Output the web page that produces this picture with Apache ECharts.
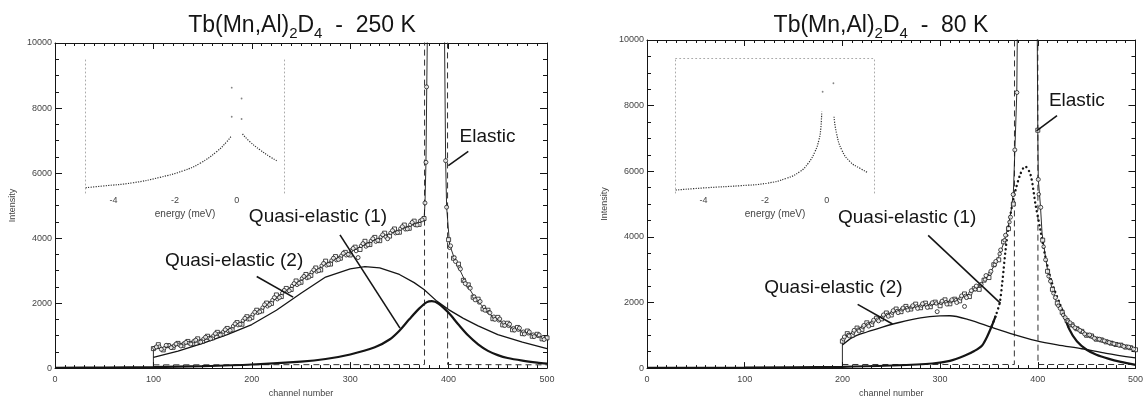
<!DOCTYPE html>
<html><head><meta charset="utf-8">
<script src="https://cdn.jsdelivr.net/npm/echarts@6/dist/echarts.min.js"></script>
<style>html,body{margin:0;padding:0;background:#fff}#c{width:1146px;height:403px}</style>
</head><body><div id="c"></div>
<script>
// ---------- DATA ----------
const titles = ['250 K', '80 K'];
const xTicks = [0, 100, 200, 300, 400, 500];
const yTicks = [0, 2000, 4000, 6000, 8000, 10000];
const insetTicks = [-4, -2, 0];

// 250 K : [channel, intensity]
const sq250 = [[100,600],[105,720],[110,560],[115,690],[120,640],[125,760],[130,700],[135,820],[140,760],[145,900],[150,830],[155,980],[160,930],[165,1100],[170,1050],[175,1220],[180,1180],[185,1400],[190,1350],[195,1580],[200,1560],[205,1780],[210,1760],[215,2000],[220,1990],[225,2250],[230,2200],[235,2450],[240,2420],[245,2680],[250,2640],[255,2880],[260,2850],[265,3080],[270,3020],[275,3290],[280,3200],[285,3430],[290,3380],[295,3560],[300,3480],[305,3720],[310,3650],[315,3900],[320,3800],[325,4020],[330,3920],[335,4150],[340,4060],[345,4280],[350,4180],[355,4400],[360,4300],[365,4520],[370,4420],[375,4600],
  [400,3950],[405,3380],[410,3200],[415,2700],[420,2560],[425,2180],[430,2120],[435,1820],[440,1780],[445,1520],[450,1560],[455,1330],[460,1380],[465,1180],[470,1250],[475,1060],[480,1140],[485,980],[490,1040],[495,900],[500,930]];
const ci250 = [[103,650],[108,580],[113,700],[118,630],[123,740],[128,680],[133,790],[138,740],[143,860],[148,800],[153,950],[158,900],[163,1060],[168,1020],[173,1180],[178,1160],[183,1360],[188,1350],[193,1530],[198,1510],[203,1720],[208,1730],[213,1950],[218,1950],[223,2170],[228,2170],[233,2390],[238,2380],[243,2600],[248,2610],[253,2820],[258,2800],[263,3020],[268,3000],[273,3220],[278,3190],[283,3380],[288,3340],[293,3530],[298,3500],[303,3680],[308,3400],[313,3830],[318,3790],[323,3980],[328,3930],[333,4100],[338,3980],[343,4230],[348,4170],[353,4350],[358,4280],[363,4480],[368,4400],[373,4560],
  [376,5080],[377,6330],[377.6,8650],[397,6380],[398,4950],
  [402,3760],[407,3280],[412,3050],[417,2600],[422,2460],[427,2100],[432,2050],[437,1780],[442,1700],[447,1500],[452,1510],[457,1310],[462,1350],[467,1170],[472,1230],[477,1050],[482,1110],[487,970],[492,1020],[497,880]];
const ex250 = [[101,620],[106,660],[111,610],[116,700],[121,690],[126,720],[131,760],[136,770],[141,830],[146,810],[151,900],[156,920],[161,1000],[166,1040],[171,1120],[176,1140],[181,1290],[186,1320],[191,1460],[196,1500],[201,1650],[206,1700],[211,1860],[216,1900],[221,2090],[226,2120],[231,2310],[236,2350],[241,2530],[246,2560],[251,2760],[256,2770],[261,2950],[266,2970],[271,3150],[276,3160],[281,3310],[286,3320],[291,3460],[296,3470],[301,3620],[306,3600],[311,3760],[316,3740],[321,3910],[326,3890],[331,4030],[336,4040],[341,4160],[346,4150],[351,4290],[356,4270],[361,4410],[366,4400],[371,4530],
  [401,3700],[406,3400],[411,3100],[416,2680],[421,2480],[426,2200],[431,2020],[436,1880],[441,1720],[446,1580],[451,1470],[456,1400],[461,1300],[466,1230],[471,1180],[476,1120],[481,1070],[486,1030],[491,990],[496,950]];
const fit250 = [[100,0],[100,580],[125,700],[150,850],[175,1150],[200,1600],[225,2150],[250,2700],[275,3200],[300,3580],[325,3950],[350,4250],[370,4480],[375,4560],[376,5050],[377,6350],[377.8,8650],[378.7,11000],[395.6,11000],[397,6350],[398,4950],[401,3800],[405,3450],[411,3050],[418,2600],[425,2250],[433,1950],[442,1650],[452,1450],[465,1240],[476,1120],[486,1030],[500,910]];
const qe2_250 = [[100,330],[125,520],[150,760],[175,1030],[200,1340],[225,1780],[250,2300],[275,2800],[300,3050],[315,3120],[330,3080],[350,2880],[365,2630],[375,2420],[388,2060],[400,1800],[415,1530],[430,1300],[450,1030],[475,800],[500,600]];
const qe1_250 = [[0,10],[50,15],[100,30],[150,60],[200,110],[250,200],[275,280],[300,420],[325,640],[340,880],[350,1150],[360,1500],[370,1830],[378,2030],[383,2060],[390,1980],[400,1700],[410,1340],[420,1000],[430,730],[440,530],[450,400],[460,310],[475,230],[490,170],[500,140]];
const el250 = [[100,100],[375.5,110],[375.6,11000],[398.9,11000],[399,110],[500,100]];

// 80 K
const sq80 = [[200,820],[205,1050],[210,1000],[215,1220],[220,1180],[225,1380],[230,1330],[235,1520],[240,1500],[245,1680],[250,1620],[255,1800],[260,1720],[265,1880],[270,1800],[275,1950],[280,1840],[285,1980],[290,1870],[295,2010],[300,1900],[305,2080],[310,1960],[315,2100],[320,2050],[325,2260],[330,2180],[335,2420],[340,2400],[345,2680],[350,2760],[355,3150],[360,3300],[365,3850],[370,4250],[375,5000],
  [400,7250],[405,3900],[410,2950],[415,2400],[420,1980],[425,1700],[430,1450],[435,1320],[440,1200],[445,1120],[450,1000],[455,980],[460,880],[465,860],[470,800],[475,760],[480,720],[485,700],[490,640],[495,620],[500,560]];
const ci80 = [[202,950],[207,980],[212,1150],[217,1130],[222,1300],[227,1280],[232,1460],[237,1440],[242,1620],[247,1580],[252,1750],[257,1690],[262,1830],[267,1770],[272,1900],[277,1820],[282,1960],[287,1850],[292,1990],[297,1720],[302,2040],[307,1950],[312,2080],[317,2000],[322,2200],[325,1880],[327,2150],[332,2360],[337,2500],[342,2550],[347,2820],[352,2950],[357,3250],[362,3600],[367,4050],[372,4600],[374.8,5290],[376.5,6650],[378.6,8400],
  [400.5,5750],[403,4900],[408,3300],[413,2650],[418,2150],[423,1820],[428,1540],[433,1380],[438,1230],[443,1150],[448,1040],[453,1010],[458,910],[463,880],[468,830],[473,780],[478,740],[483,700],[488,660],[493,640],[498,580]];
const ex80 = [[201,880],[206,1010],[211,1080],[216,1170],[221,1250],[226,1330],[231,1400],[236,1480],[241,1560],[246,1620],[251,1690],[256,1740],[261,1790],[266,1830],[271,1860],[276,1880],[281,1910],[286,1920],[291,1950],[296,1970],[301,1990],[306,2010],[311,2040],[316,2070],[321,2130],[326,2200],[331,2280],[336,2400],[341,2520],[346,2700],[351,2880],[356,3150],[361,3480],[366,3900],[371,4450],
  [401,5300],[406,3700],[411,2800],[416,2280],[421,1900],[426,1620],[431,1420],[436,1290],[441,1190],[446,1100],[451,1010],[456,950],[461,890],[466,840],[471,800],[476,760],[481,720],[486,690],[491,650],[496,610]];
const fit80 = [[200,0],[200,880],[210,1090],[220,1250],[230,1420],[240,1570],[250,1690],[260,1780],[275,1870],[290,1930],[300,1980],[310,2040],[320,2120],[330,2260],[340,2480],[350,2850],[355,3100],[360,3400],[365,3800],[370,4350],[373,4850],[375,5350],[376.5,6600],[378.5,8400],[379.3,11000],[399.3,11000],[400,7250],[400.5,5750],[402.7,4950],[404.4,4100],[407.8,3400],[411,2800],[418,2100],[428,1500],[436,1250],[445,1090],[458,930],[472,790],[486,680],[500,590]];
const qe2_80 = [[200,700],[210,930],[225,1100],[241,1250],[258,1390],[280,1530],[300,1590],[310,1595],[330,1470],[353,1240],[375,1030],[398,840],[420,710],[445,590],[470,450],[500,310]];
const qe1_80 = [[0,5],[100,15],[200,40],[250,80],[292,140],[310,220],[326,390],[335,520],[343,690],[348,950],[353,1290],[357,1600],[361,1990],[363.6,2590],[367,3590],[370.4,4390],[374,5000],[377,5400],[382,5900],[387,6150],[392.5,5900],[397.6,5000],[402.7,4200],[407.8,3390],[414.6,2590],[424.8,1790],[432,1200],[440,820],[450,560],[460,410],[472,290],[485,190],[500,100]];
const el80 = [[200,110],[376,110],[376.2,11000],[400,11000],[400.2,110],[500,110]];

// insets : [energy (meV), counts (arb.)]
const inL250 = [[-4.9,3.9],[-4.33,5.2],[-3.36,7.6],[-2.49,11.6],[-1.73,16.5],[-1.19,22],[-0.65,30.6],[-0.32,38],[-0.19,41.7]];
const inR250 = [[0.19,43.7],[0.43,38],[0.76,31.9],[1.08,26.9],[1.30,23.9]];
const inDots250 = [[-0.16,78],[-0.16,56.5],[0.16,70],[0.16,54.8]];
const inL80 = [[-4.9,2.2],[-3.9,3.9],[-2.81,5.4],[-1.95,7.2],[-1.30,10.9],[-0.87,15.8],[-0.6,22],[-0.38,30.6],[-0.25,39.3],[-0.19,47.9],[-0.16,60.2]];
const inR80 = [[0.24,56.5],[0.32,44.2],[0.49,31.9],[0.76,23.2],[1.08,18.3],[1.35,15]];
const inDots80 = [[-0.13,75],[0.22,81.3]];

// ---------- CHART ----------
const FF = 'Liberation Sans, Arial, sans-serif';
const INK = '#151515';
const chart = echarts.init(document.getElementById('c'), null, {renderer:'canvas'});

function titleOf(t, x){
  return {text:'Tb(Mn,Al){s|2}D{s|4}  -  ' + t, left:x, top:6, textAlign:'center',
    textStyle:{fontFamily:FF, fontSize:23, fontWeight:'normal', color:INK, lineHeight:30,
      rich:{s:{fontFamily:FF, fontSize:15, color:INK, verticalAlign:'bottom', lineHeight:12}}}};
}
const grids = [
  {left:55, top:43, width:492, height:331},
  {left:647, top:40, width:490, height:333},
  {left:85.7, top:58, width:198.7, height:135},
  {left:675.7, top:58, width:198.7, height:135}
];
const lab = {fontFamily:FF, fontSize:9, color:'#444'};
function xMain(g, pos){
  const bottom = pos === 'bottom';
  return {gridIndex:g, type:'value', position:pos, min:0, max:500, interval:100,
    axisLine:{onZero:false, lineStyle:{color:INK, width:1}},
    axisTick:{inside:true, length:6, lineStyle:{color:INK}},
    minorTick:{show:true, splitNumber:10, length:3, lineStyle:{color:INK}},
    splitLine:{show:false},
    axisLabel:{show:bottom, ...lab, margin:7, customValues:xTicks, formatter:v=>String(v)},
    name: bottom ? 'channel number' : '', nameLocation:'middle', nameGap:19, nameTextStyle:lab};
}
function yMain(g, pos){
  const left = pos === 'left';
  return {gridIndex:g, type:'value', position:pos, min:0, max:10000, interval:2000,
    axisLine:{show:true, onZero:false, lineStyle:{color:INK, width:1}},
    axisTick:{show:true, inside:true, length:7, lineStyle:{color:INK}},
    minorTick:{show:true, splitNumber:4, length:4, lineStyle:{color:INK}},
    splitLine:{show:false},
    axisLabel:{show:left, ...lab, margin:3, customValues:yTicks, formatter:v=>String(v)},
    name: left ? 'Intensity' : '', nameLocation:'middle', nameGap:38, nameTextStyle:lab};
}
function xInset(g){
  return {gridIndex:g, type:'value', min:-4.9, max:1.55,
    axisLine:{show:false, onZero:false}, axisTick:{show:false}, splitLine:{show:false},
    axisLabel:{...lab, margin:3, customValues:insetTicks, formatter:v=>String(v)},
    name:'energy (meV)', nameLocation:'middle', nameGap:16, nameTextStyle:{...lab, fontSize:10}};
}
const dotted = {type:[1,3], color:'#aaa', width:1};
function yInset(g, pos){
  return {gridIndex:g, type:'value', position:pos, min:0, max:100,
    axisLine:{show:true, onZero:false, lineStyle:dotted}, axisTick:{show:false},
    axisLabel:{show:false}, splitLine:{show:false}};
}

function line(data, xi, yi, w, type, extra){
  return Object.assign({type:'line', data, xAxisIndex:xi, yAxisIndex:yi, symbol:'none',
    showSymbol:false, smooth:false, clip:true,
    lineStyle:{color:INK, width:w, type:type || 'solid'}, z:3}, extra || {});
}
function pts(data, xi, yi, sym, size){
  return {type:'scatter', data, xAxisIndex:xi, yAxisIndex:yi, symbol:sym, symbolSize:size || 4, clip:true,
    itemStyle:{color:'#fff', borderColor:'#1a1a1a', borderWidth:1}, z:4};
}
const annFont = {fontFamily:FF, fontSize:19, color:INK};
function ann(lines, labels){
  return {
    markLine:{silent:true, symbol:['none','none'], label:{show:false},
      lineStyle:{color:INK, width:1.6, type:'solid'},
      data: lines.map(l => [{coord:l[0]}, {coord:l[1]}])},
    markPoint:{silent:true, data: labels.map(l => ({coord:l[1], symbol:'circle', symbolSize:1,
      itemStyle:{color:'rgba(0,0,0,0)'},
      label:{show:true, position:'inside', formatter:l[0], ...annFont}}))}
  };
}

const qe1SolidL = qe1_80.filter(p => p[0] <= 357);
const qe1Dots = qe1_80.filter(p => p[0] >= 353 && p[0] <= 432);
const qe1SolidR = qe1_80.filter(p => p[0] >= 424.8);
const inLine = {smooth:true, lineStyle:{color:'#333', width:1.2, type:[1.2,1.3]}};

const option = {
  animation:false,
  backgroundColor:'#fff',
  title:[titleOf(titles[0], 297), titleOf(titles[1], 876)],
  grid:grids,
  xAxis:[xMain(0,'bottom'), xMain(0,'top'), xMain(1,'bottom'), xMain(1,'top'), xInset(2), xInset(3),
    {gridIndex:3, type:'value', position:'top', min:-4.9, max:1.55, axisLine:{show:true, onZero:false, lineStyle:dotted},
     axisTick:{show:false}, axisLabel:{show:false}, splitLine:{show:false}}],
  yAxis:[yMain(0,'left'), yMain(0,'right'), yMain(1,'left'), yMain(1,'right'),
    yInset(2,'left'), yInset(2,'right'), yInset(3,'left'), yInset(3,'right')],
  series:[
    // 250 K
    line(el250, 0, 0, 1, [6,4], {lineStyle:{color:'#333', width:1, type:[6,4]}}),
    line(qe2_250, 0, 0, 1.3, 'solid', ann(
      [[[420,6665],[399.7,6230]], [[289.6,4098],[350.6,1229]], [[205,2818],[242,2183]]],
      [['Elastic',[439.5,7118]], ['Quasi-elastic (1)',[267.3,4651]], ['Quasi-elastic (2)',[182,3292]]])),
    line(qe1_250, 0, 0, 2.2, 'solid', {smooth:0.3}),
    line(fit250, 0, 0, 0.9),
    pts(sq250, 0, 0, 'rect', 4),
    pts(ex250, 0, 0, 'circle', 3.5),
    pts(ci250, 0, 0, 'circle', 4),
    // 80 K
    line(el80, 2, 2, 1, [6,4], {lineStyle:{color:'#333', width:1, type:[6,4]}}),
    line(qe2_80, 2, 2, 1.3, 'solid', Object.assign({smooth:0.3}, ann(
      [[[419.7,7697],[398.7,7228]], [[287.8,4045],[361.9,1973]], [[215.6,1943],[251.3,1342]]],
      [['Elastic',[440,8147]], ['Quasi-elastic (1)',[266.3,4595]], ['Quasi-elastic (2)',[190.8,2441]]]))),
    line(qe1SolidL, 2, 2, 2.2, 'solid', {smooth:0.3}),
    line(qe1Dots, 2, 2, 2.4, [0.1,4.5], {smooth:0.3, lineStyle:{color:INK, width:2.4, type:[0.1,4.5], cap:'round'}}),
    line(qe1SolidR, 2, 2, 2.2, 'solid', {smooth:0.3}),
    line(fit80, 2, 2, 0.9),
    pts(sq80, 2, 2, 'rect', 4),
    pts(ex80, 2, 2, 'circle', 3.5),
    pts(ci80, 2, 2, 'circle', 4),
    // insets
    line(inL250, 4, 4, 1.2, 'dotted', inLine),
    line(inR250, 4, 4, 1.2, 'dotted', inLine),
    {type:'scatter', data:inDots250, xAxisIndex:4, yAxisIndex:4, symbolSize:1.8, itemStyle:{color:'#666'}},
    line(inL80, 5, 6, 1.2, 'dotted', inLine),
    line(inR80, 5, 6, 1.2, 'dotted', inLine),
    {type:'scatter', data:inDots80, xAxisIndex:5, yAxisIndex:6, symbolSize:1.8, itemStyle:{color:'#666'}}
  ]
};
chart.setOption(option);
</script>
</body></html>
